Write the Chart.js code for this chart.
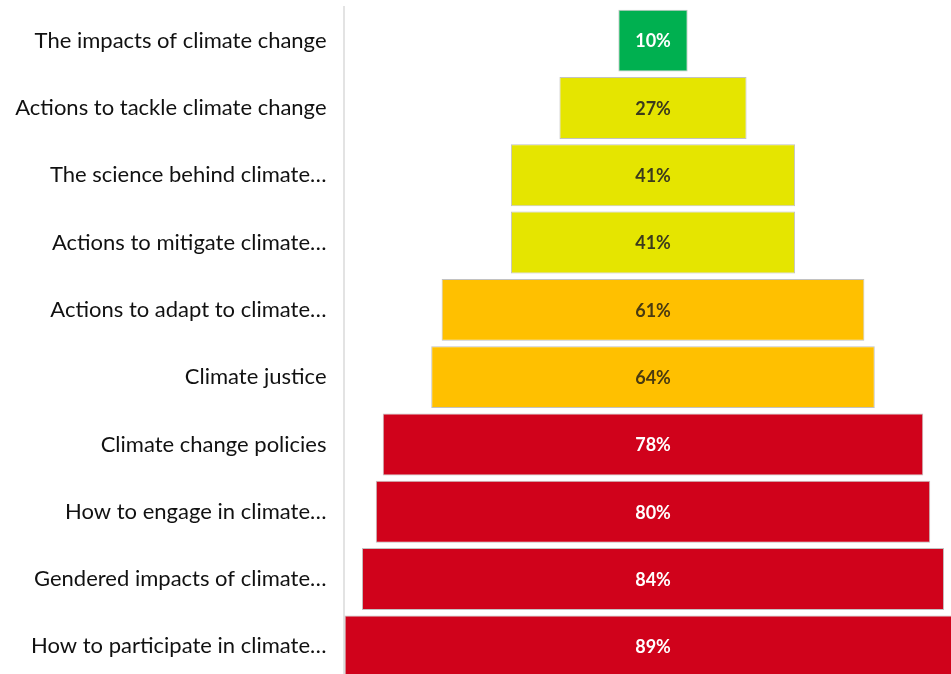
<!DOCTYPE html>
<html>
<head>
<meta charset="utf-8">
<script src="https://cdn.jsdelivr.net/npm/chart.js@4/dist/chart.umd.min.js"></script>
<style>
  html, body { margin: 0; padding: 0; background: #fff; overflow: hidden; }
  #wrap { position: relative; width: 951px; height: 680px; }
</style>
</head>
<body>
<div id="wrap"><canvas id="myChart"></canvas></div>
<script>
const topics = [
    'The impacts of climate change',
    'Actions to tackle climate change',
    'The science behind climate…',
    'Actions to mitigate climate…',
    'Actions to adapt to climate…',
    'Climate justice',
    'Climate change policies',
    'How to engage in climate…',
    'Gendered impacts of climate…',
    'How to participate in climate…'
];
const percents = [10, 27, 41, 41, 61, 64, 78, 80, 84, 89];

const barColors = ['#00B050', '#E5E500', '#E5E500', '#E5E500', '#FFC000', '#FFC000', '#D0021B', '#D0021B', '#D0021B', '#D0021B'];
const textColors = ['#ffffff', '#3b3a1c', '#3b3a1c', '#3b3a1c', '#4a3a10', '#4a3a10', '#ffffff', '#ffffff', '#ffffff', '#ffffff'];

// funnel: each bar centred on zero
const spans = percents.map(v => [-v / 2, v / 2]);

const valueLabels = {
    id: 'valueLabels',
    afterDatasetsDraw(chart) {
        const ctx = chart.ctx;
        const meta = chart.getDatasetMeta(0);
        const cx = chart.scales.x.getPixelForValue(0);
        ctx.save();
        ctx.font = 'bold 18px Lato';
        ctx.textAlign = 'center';
        ctx.textBaseline = 'middle';
        meta.data.forEach((bar, i) => {
            ctx.fillStyle = textColors[i];
            ctx.fillText(percents[i] + '%', cx, bar.y + 1);
        });
        ctx.restore();
    }
};

const ctx = document.getElementById('myChart').getContext('2d');
const myChart = new Chart(ctx, {
    type: 'bar',
    data: {
        labels: topics,
        datasets: [{
            data: spans,
            backgroundColor: barColors,
            borderColor: 'rgba(120, 120, 120, 0.45)',
            borderWidth: 1,
            borderSkipped: false,
            categoryPercentage: 0.92,
            barPercentage: 1.0
        }]
    },
    options: {
        indexAxis: 'y',
        responsive: true,
        maintainAspectRatio: false,
        animation: false,
        layout: { padding: { top: 7, left: 0, right: 0, bottom: 0 } },
        plugins: {
            legend: { display: false },
            tooltip: { enabled: false }
        },
        scales: {
            x: {
                min: -44.66,
                max: 43.0,
                display: false,
                grid: { display: false }
            },
            y: {
                afterFit(axis) {
                    axis.width = 343.5;
                    axis.paddingTop = 0;
                    axis.paddingBottom = 0;
                },
                grid: { display: false, drawTicks: false },
                border: { display: true, color: '#e3e3e3', width: 2 },
                ticks: {
                    color: '#111111',
                    padding: 17,
                    font: { family: 'Lato', size: 22 }
                }
            }
        }
    },
    plugins: [valueLabels]
});
</script>
</body>
</html>
